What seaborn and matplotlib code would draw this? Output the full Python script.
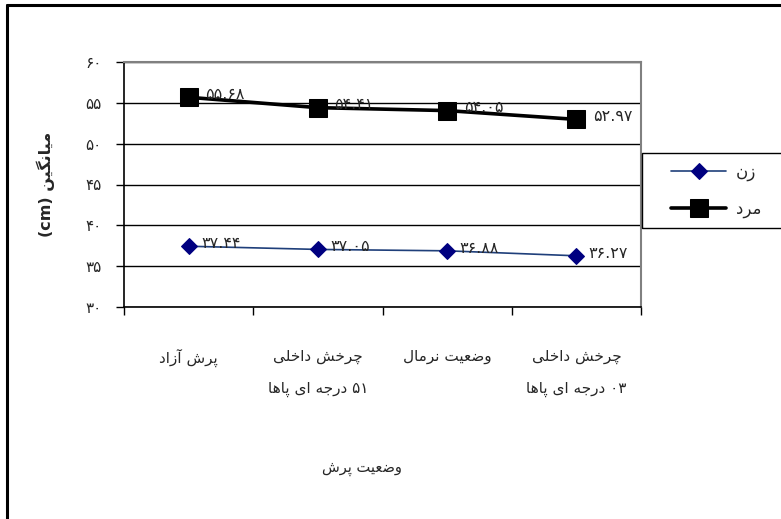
import numpy as np
import pandas as pd
import matplotlib
matplotlib.use("Agg")
import matplotlib.pyplot as plt
from matplotlib.lines import Line2D
from matplotlib.patches import Rectangle
import seaborn as sns

# chart values
categories = ["پرش آزاد", "چرخش داخلی\n۵۱ درجه ای پاها", "وضعیت نرمال", "چرخش داخلی\n۰۳ درجه ای پاها"]
female = [37.44, 37.05, 36.88, 36.27]
male = [55.68, 54.41, 54.05, 52.97]
y_ticks = [30, 35, 40, 45, 50, 55, 60]
series_names = ["زن", "مرد"]
y_title = "میانگین (cm)"
x_title = "وضعیت پرش"

# --- very small Persian shaper (matplotlib does no Arabic joining) ---
# forms: isolated, final, initial, medial  (None -> letter does not join to the next one)
FORMS = {
    "ا": ("\uFE8D", "\uFE8E", None, None),
    "آ": ("\uFE81", "\uFE82", None, None),
    "د": ("\uFEA9", "\uFEAA", None, None),
    "ر": ("\uFEAD", "\uFEAE", None, None),
    "ز": ("\uFEAF", "\uFEB0", None, None),
    "و": ("\uFEED", "\uFEEE", None, None),
    "پ": ("\uFB56", "\uFB57", "\uFB58", "\uFB59"),
    "ت": ("\uFE95", "\uFE96", "\uFE97", "\uFE98"),
    "ج": ("\uFE9D", "\uFE9E", "\uFE9F", "\uFEA0"),
    "چ": ("\uFB7A", "\uFB7B", "\uFB7C", "\uFB7D"),
    "خ": ("\uFEA5", "\uFEA6", "\uFEA7", "\uFEA8"),
    "ش": ("\uFEB5", "\uFEB6", "\uFEB7", "\uFEB8"),
    "ض": ("\uFEBD", "\uFEBE", "\uFEBF", "\uFEC0"),
    "ع": ("\uFEC9", "\uFECA", "\uFECB", "\uFECC"),
    "ل": ("\uFEDD", "\uFEDE", "\uFEDF", "\uFEE0"),
    "م": ("\uFEE1", "\uFEE2", "\uFEE3", "\uFEE4"),
    "ن": ("\uFEE5", "\uFEE6", "\uFEE7", "\uFEE8"),
    "ه": ("\uFEE9", "\uFEEA", "\uFEEB", "\uFEEC"),
    "ی": ("\uFBFC", "\uFBFD", "\uFBFE", "\uFBFF"),
    "گ": ("\uFB92", "\uFB93", "\uFB94", "\uFB95"),
}


def shape_word(word):
    if not any(c in FORMS for c in word):
        return word  # digits / latin stay left to right
    out = []
    for i, c in enumerate(word):
        if c not in FORMS:
            out.append(c)
            continue
        prev = word[i - 1] if i > 0 else None
        nxt = word[i + 1] if i + 1 < len(word) else None
        joins_prev = prev in FORMS and FORMS[prev][2] is not None
        joins_next = nxt in FORMS and FORMS[c][2] is not None
        iso, fin, ini, med = FORMS[c]
        if joins_prev and joins_next:
            out.append(med)
        elif joins_prev:
            out.append(fin)
        elif joins_next:
            out.append(ini)
        else:
            out.append(iso)
    return "".join(reversed(out))


def fa(text):
    # right-to-left: reverse word order on every line
    return "\n".join(" ".join(shape_word(w) for w in reversed(line.split(" "))) for line in text.split("\n"))


FA_DIGITS = str.maketrans("0123456789", "۰۱۲۳۴۵۶۷۸۹")


def fa_num(v):
    return f"{v:.2f}".translate(FA_DIGITS)


sns.set_style("white")
plt.rcParams["font.family"] = ["DejaVu Sans"]

fig = plt.figure(figsize=(7.81, 5.19), dpi=100)
ax = fig.add_axes([124 / 781, 1 - 307 / 519, 517 / 781, 245 / 519])

pos = np.arange(len(categories))
df = pd.DataFrame({"pos": pos, "female": female, "male": male})

sns.lineplot(data=df, x="pos", y="female", ax=ax, color="#1f3f7a", lw=1.2,
             marker="D", markersize=8.5, markerfacecolor="#000080", markeredgecolor="#000080",
             label=fa(series_names[0]))
sns.lineplot(data=df, x="pos", y="male", ax=ax, color="black", lw=2.6,
             marker="s", markersize=13, markerfacecolor="black", markeredgecolor="black",
             label=fa(series_names[1]))

for x, v in zip(pos, female):
    ax.annotate(fa_num(v), (x, v), xytext=(9, 2), textcoords="offset points",
                va="center", ha="left", fontsize=11.5)
for x, v in zip(pos, male):
    ax.annotate(fa_num(v), (x, v), xytext=(12, 2), textcoords="offset points",
                va="center", ha="left", fontsize=11.5)

ax.set_xlim(-0.5, len(categories) - 0.5)
ax.set_ylim(min(y_ticks), max(y_ticks))
ax.set_yticks(y_ticks)
ax.set_yticklabels([str(t).translate(FA_DIGITS) for t in y_ticks], fontsize=11)
ax.yaxis.grid(True, color="black", lw=1)
ax.xaxis.grid(False)

# boundary ticks on x, labels between them
ax.set_xticks(np.arange(-0.5, len(categories), 1.0))
ax.set_xticklabels([])
ax.set_xticks(pos, minor=True)
ax.set_xticklabels([fa(c) for c in categories], minor=True, fontsize=11, linespacing=2.4)
ax.tick_params(axis="x", which="major", direction="out", length=6, width=1, color="black", bottom=True)
ax.tick_params(axis="x", which="minor", length=0, pad=30)
ax.tick_params(axis="y", direction="out", length=6, width=1, color="black", left=True, pad=10)

ax.set_xlabel("")
ax.set_ylabel(fa(y_title), fontsize=11.5, fontweight="bold", labelpad=22)

for side in ["top", "right"]:
    ax.spines[side].set_color("#808080")
    ax.spines[side].set_linewidth(1.5)
for side in ["left", "bottom"]:
    ax.spines[side].set_color("black")
    ax.spines[side].set_linewidth(1.2)

fig.text(362 / 781, 1 - 468 / 519, fa(x_title), ha="center", va="center", fontsize=10.5)

# legend box runs past the right edge like the reference
fig.add_artist(Rectangle((642 / 781, 1 - 228 / 519), 0.3, 75 / 519, transform=fig.transFigure,
                         fill=False, edgecolor="black", lw=1))
leg = ax.legend(loc="upper left", bbox_to_anchor=(656 / 781, 1 - 148 / 519),
                bbox_transform=fig.transFigure, fontsize=12, frameon=False,
                handlelength=3.3, handletextpad=0.6, labelspacing=1.1)

# outer chart frame (cut at right and bottom like the reference)
fig.add_artist(Line2D([7 / 781, 1.0], [1 - 5 / 519, 1 - 5 / 519], transform=fig.transFigure,
                      color="black", lw=2.2))
fig.add_artist(Line2D([7 / 781, 7 / 781], [0.0, 1 - 5 / 519], transform=fig.transFigure,
                      color="black", lw=2.2))

fig.savefig("out.png", dpi=100)
